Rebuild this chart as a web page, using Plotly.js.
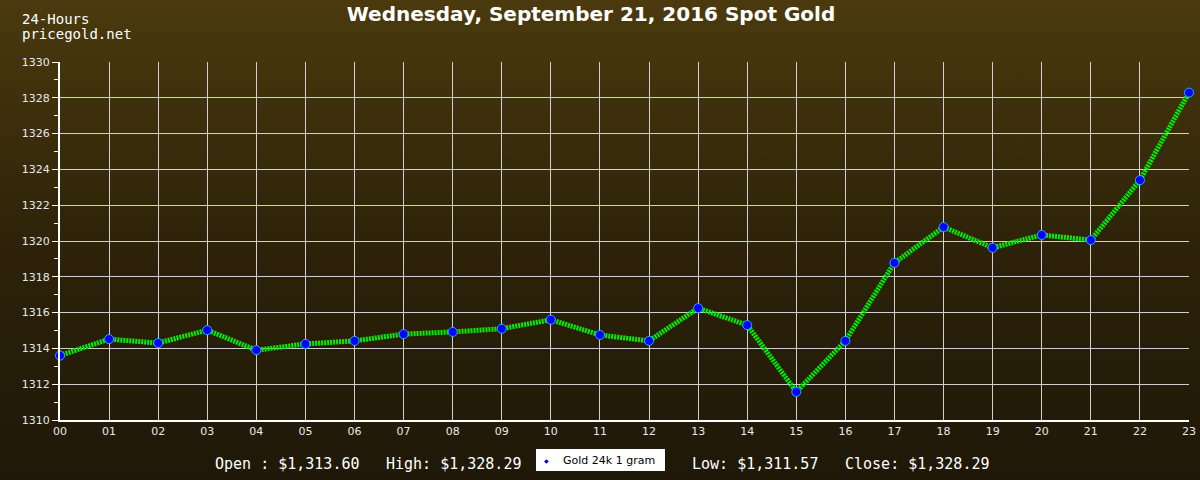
<!DOCTYPE html>
<html>
<head>
<meta charset="utf-8">
<script src="https://cdn.plot.ly/plotly-3.0.1.min.js"></script>
<style>
html,body{margin:0;padding:0;}
body{width:1200px;height:480px;background:linear-gradient(to bottom,#4b3a0e 0%,#2e2309 50%,#1f1808 100%);}
#chart{width:1200px;height:480px;}
</style>
</head>
<body>
<div id="chart"></div>
<script>
const hours = ["00","01","02","03","04","05","06","07","08","09","10","11","12","13","14","15","16","17","18","19","20","21","22","23"];
const prices = [1313.60,1314.52,1314.30,1315.02,1313.90,1314.25,1314.42,1314.80,1314.92,1315.10,1315.60,1314.75,1314.42,1316.25,1315.30,1311.57,1314.42,1318.78,1320.78,1319.62,1320.34,1320.05,1323.40,1328.29];
const seriesName = "Gold 24k 1 gram";
const titleText = "Wednesday, September 21, 2016 Spot Gold";
const cornerText = ["24-Hours","pricegold.net"];
const statsText = ["Open : $1,313.60","High: $1,328.29","Low: $1,311.57","Close: $1,328.29"];
const yTicks = [1310,1312,1314,1316,1318,1320,1322,1324,1326,1328,1330];

const traces = [
  {x: hours, y: prices, type: "scatter", mode: "lines", showlegend: false, name: seriesName,
   line: {color: "#00ee00", width: 5, dash: "2px,1px"}, hoverinfo: "skip", cliponaxis: false},
  {x: hours, y: prices, type: "scatter", mode: "markers", showlegend: false, name: seriesName,
   cliponaxis: false,
   marker: {color: "#0000ff", size: 9, symbol: "circle", line: {color: "#22aaff", width: 1}}}
];

const PL = 60, PT = 62, PW = 1129, PH = 358;
const px = v => (v - PL) / PW;
const py = v => (PT + PH - v) / PH;

const monoFont = {family: "DejaVu Sans Mono", size: 15, color: "#ffffff"};
const statsX = [213, 384, 690, 843];
const annotations = [];
cornerText.forEach((t, i) => annotations.push({
  text: t, xref: "paper", yref: "paper", x: px(20), y: py(19 + i * 15),
  xanchor: "left", yanchor: "middle", showarrow: false,
  font: {family: "DejaVu Sans Mono", size: 14, color: "#ffffff"}
}));
statsText.forEach((t, i) => annotations.push({
  text: t, xref: "paper", yref: "paper", x: px(statsX[i]), y: py(464),
  xanchor: "left", yanchor: "middle", showarrow: false, font: monoFont
}));
// legend box content
annotations.push({
  text: seriesName, xref: "paper", yref: "paper", x: px(561), y: py(460),
  xanchor: "left", yanchor: "middle", showarrow: false,
  font: {family: "DejaVu Sans", size: 11, color: "#000000"}
});
annotations.push({
  text: "◆", xref: "paper", yref: "paper", x: px(546), y: py(460),
  xanchor: "center", yanchor: "middle", showarrow: false,
  font: {family: "DejaVu Sans", size: 6, color: "#0000ff"}
});

const layout = {
  width: 1200, height: 480,
  paper_bgcolor: "rgba(0,0,0,0)", plot_bgcolor: "rgba(0,0,0,0)",
  margin: {l: 60, r: 11, t: 62, b: 60, autoexpand: false},
  title: {text: "<b>" + titleText + "</b>", font: {family: "DejaVu Sans", size: 20, color: "#ffffff"},
          x: 591/1200, xanchor: "center", y: 1 - 14/480, yanchor: "middle"},
  xaxis: {type: "category", range: [0, 23], showgrid: true, gridcolor: "#d0d0d0", gridwidth: 1,
          showline: true, linecolor: "#ffffff", linewidth: 2, mirror: false, zeroline: false,
          ticks: "", tickfont: {family: "DejaVu Sans", size: 11, color: "#e8e8e8"}, fixedrange: true},
  yaxis: {range: [1310, 1330], tickvals: yTicks, showgrid: true, gridcolor: "#d0d0d0", gridwidth: 1,
          showline: true, linecolor: "#ffffff", linewidth: 2, zeroline: false,
          ticks: "outside", ticklen: 6, tickcolor: "#ffffff", tickwidth: 1,
          minor: {dtick: 1, tick0: 1310, ticks: "outside", ticklen: 4, tickcolor: "#ffffff", showgrid: false},
          tickfont: {family: "DejaVu Sans", size: 11, color: "#e8e8e8"}, fixedrange: true},
  showlegend: false,
  shapes: [{type: "rect", xref: "paper", yref: "paper", x0: px(536), x1: px(665), y0: py(471), y1: py(449),
            fillcolor: "#ffffff", line: {width: 0}, layer: "above"}],
  annotations: annotations
};

Plotly.newPlot("chart", traces, layout, {displayModeBar: false, staticPlot: true});
</script>
</body>
</html>
